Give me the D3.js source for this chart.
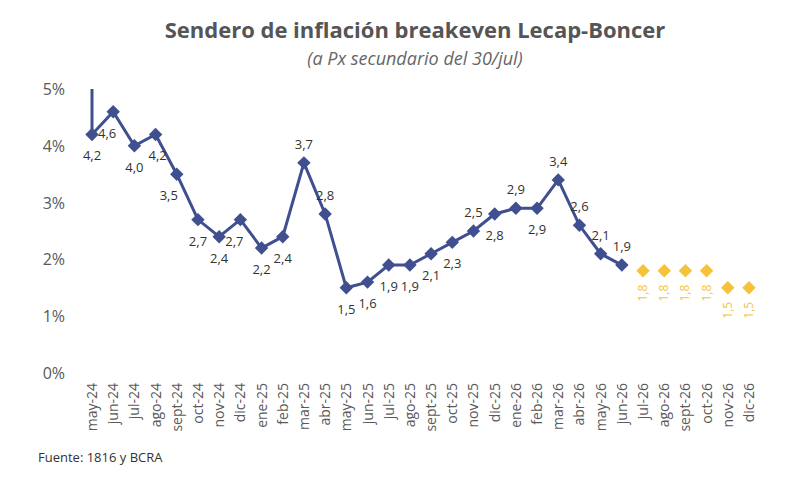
<!DOCTYPE html>
<html><head><meta charset="utf-8">
<script src="https://cdn.jsdelivr.net/npm/d3@7"></script>
<style>body{margin:0;background:#fff;font-family:"Open Sans",Roboto,sans-serif}</style>
</head><body><svg id="chart" width="800" height="483"></svg>
<script>
var months = ["may-24","jun-24","jul-24","ago-24","sept-24","oct-24","nov-24","dic-24","ene-25","feb-25","mar-25","abr-25","may-25","jun-25","jul-25","ago-25","sept-25","oct-25","nov-25","dic-25","ene-26","feb-26","mar-26","abr-26","may-26","jun-26","jul-26","ago-26","sept-26","oct-26","nov-26","dic-26"];
var observed = [4.2,4.6,4.0,4.2,3.5,2.7,2.4,2.7,2.2,2.4,3.7,2.8,1.5,1.6,1.9,1.9,2.1,2.3,2.5,2.8,2.9,2.9,3.4,2.6,2.1,1.9];
var projected = [1.8,1.8,1.8,1.8,1.5,1.5];
var lineStart = 5.0;
var yTicks = [0,1,2,3,4,5];
// label side per observed point: 1 above, -1 below ; dx shift
var labelSide = [-1,-1,-1,-1,-1,-1,-1,-1,-1,-1,1,1,-1,-1,-1,-1,-1,-1,1,-1,1,-1,1,1,1,1];
var labelDx =   [0,-6,0,2,-8,0,0,-6,0,0,0,0,0,0,0,0,0,0,0,0,0,0,0,0,0,0];

var svg = d3.select("#chart");
var x = d3.scalePoint().domain(months).range([92, 749]);
var y = d3.scaleLinear().domain([0, 5]).range([373, 89]);
var blue = "#3f4f8f", gold = "#f5c33b";

svg.append("text").attr("x", 415).attr("y", 38).attr("text-anchor", "middle")
  .attr("font-size", 22).attr("font-weight", "bold").attr("fill", "#555").text("Sendero de inflación breakeven Lecap-Boncer");
svg.append("text").attr("x", 415).attr("y", 65).attr("text-anchor", "middle")
  .attr("font-size", 18).attr("font-style", "italic").attr("fill", "#666").text("(a Px secundario del 30/jul)");

svg.selectAll(".yt").data(yTicks).enter().append("text")
  .attr("x", 65).attr("y", function(d){return y(d)+6;}).attr("text-anchor","end")
  .attr("font-size", 16).attr("fill", "#595959").text(function(d){return d+"%";});

svg.selectAll(".xt").data(months).enter().append("text")
  .attr("transform", function(d){return "translate("+(x(d)+5)+",383) rotate(-90)";})
  .attr("text-anchor","end").attr("font-size", 14).attr("fill", "#595959").text(function(d){return d;});

var obsPts = observed.map(function(v,i){return [x(months[i]), y(v)];});
var line = d3.line();
svg.append("path").attr("d", line([[x(months[0]), y(lineStart)]].concat(obsPts)))
  .attr("fill","none").attr("stroke",blue).attr("stroke-width",3);

var diamond = d3.symbol().type(d3.symbolSquare).size(90);
function place(d,i,o){return "translate("+x(months[o+i])+","+y(d)+") rotate(45)";}
svg.selectAll(".ob").data(observed).enter().append("path")
  .attr("d", diamond).attr("fill", blue)
  .attr("transform", function(d,i){return place(d,i,0);});
svg.selectAll(".ol").data(observed).enter().append("text")
  .attr("x", function(d,i){return x(months[i])+labelDx[i];})
  .attr("y", function(d,i){return y(d)+(labelSide[i]>0?-14:26);})
  .attr("text-anchor","middle").attr("font-size",13).attr("fill","#333")
  .text(function(d){return d.toFixed(1).replace(".",",");});

var off = observed.length;
svg.selectAll(".pb").data(projected).enter().append("path")
  .attr("d", diamond).attr("fill", gold)
  .attr("transform", function(d,i){return place(d,i,off);});
svg.selectAll(".pl").data(projected).enter().append("text")
  .attr("transform", function(d,i){return "translate("+(x(months[off+i])+4)+","+(y(d)+14)+") rotate(-90)";})
  .attr("text-anchor","end").attr("font-size",12).attr("fill",gold)
  .text(function(d){return d.toFixed(1).replace(".",",");});

svg.append("text").attr("x", 38).attr("y", 462).attr("font-size", 13).attr("fill","#333").text("Fuente: 1816 y BCRA");
</script></body></html>
